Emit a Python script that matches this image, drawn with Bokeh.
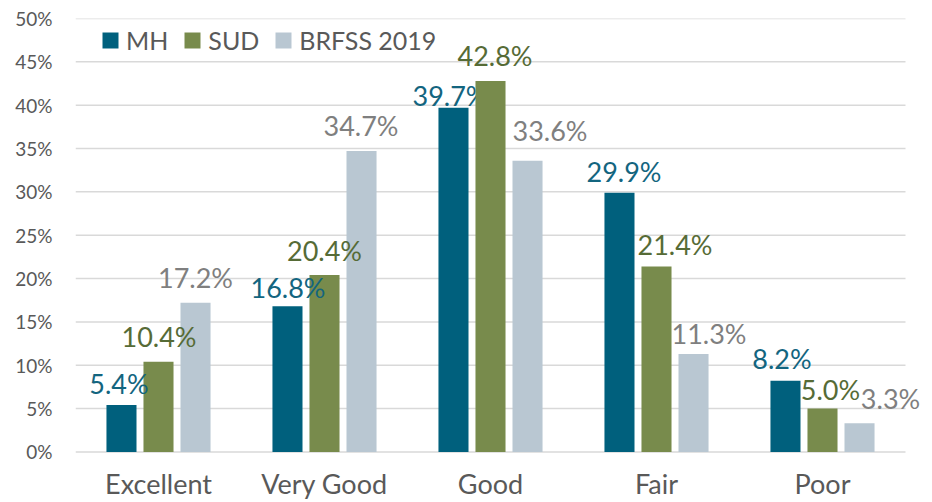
from bokeh.plotting import figure
from bokeh.models import (Range1d, Legend, LegendItem, ColumnDataSource,
                          PrintfTickFormatter, FixedTicker, CDSView, IndexFilter, LabelSet)
from bokeh.transform import dodge
from bokeh.core.properties import value
from bokeh.embed import file_html
from bokeh.resources import INLINE

# ---- data ----
categories = ["Excellent", "Very Good", "Good", "Fair", "Poor"]
series_names = ["MH", "SUD", "BRFSS 2019"]
mh = [5.4, 16.8, 39.7, 29.9, 8.2]
sud = [10.4, 20.4, 42.8, 21.4, 5.0]
brfss = [17.2, 34.7, 33.6, 11.3, 3.3]
y_ticks = [0, 5, 10, 15, 20, 25, 30, 35, 40, 45, 50]

# ---- styling ----
FONT = "Lato"
bar_colors = ["#00607D", "#788B4C", "#B9C7D2"]
label_colors = ["#13657F", "#566B36", "#7F7F7F"]
text_gray = "#595959"
grid_gray = "#D9D9D9"
offsets = [-0.223, 0.0, 0.223]
bar_width = 0.181
# per-label nudges in pixels: horizontal shift and gap above bar top
label_dx = [[-2.5, 0.5, -3.5, 4.5, -3.5],
            [0.5, 0.0, 4.5, 18.5, 8.0],
            [0.0, -0.5, 22.5, 15.5, 31.0]]
label_gap = [[11, 8.5, 12, 10.5, 12],
             [15, 14, 15, 11, 9],
             [15, 15, 20, 10, 14]]
# labels drawn underneath the following series' bars (series index -> category indices)
behind = {0: [2]}

n_cat = len(categories)
centers = [k + 0.5 for k in range(n_cat)]
# plot area: 830 px for the 5 categories, frame extended to the right edge so labels can overflow
x_end = n_cat * (932 - 75) / 830.0

p = figure(x_range=Range1d(0, x_end), y_range=Range1d(-0.3, 50),
           width=932, height=502, output_backend="svg", toolbar_location=None,
           min_border_left=75, min_border_right=0, min_border_top=18, min_border_bottom=40)
p.outline_line_color = None
p.background_fill_color = "white"
p.border_fill_color = "white"

# axes
p.yaxis.ticker = FixedTicker(ticks=y_ticks)
p.yaxis.formatter = PrintfTickFormatter(format="%d%%")
p.yaxis.axis_line_color = None
p.yaxis.major_tick_line_color = None
p.yaxis.minor_tick_line_color = None
p.yaxis.major_tick_out = 0
p.yaxis.major_label_standoff = 23
p.yaxis.major_label_text_font = FONT
p.yaxis.major_label_text_font_size = "19px"
p.yaxis.major_label_text_color = text_gray

p.xaxis.ticker = FixedTicker(ticks=centers)
p.xaxis.major_label_overrides = {c: name for c, name in zip(centers, categories)}
p.xaxis.axis_line_color = None
p.xaxis.major_tick_line_color = None
p.xaxis.minor_tick_line_color = None
p.xaxis.major_tick_out = 0
p.xaxis.major_label_standoff = 12
p.xaxis.major_label_text_font = FONT
p.xaxis.major_label_text_font_size = "27px"
p.xaxis.major_label_text_color = text_gray

p.xgrid.grid_line_color = None
p.ygrid.grid_line_color = None

# horizontal gridlines spanning the category area only
grid_src = ColumnDataSource(dict(y=y_ticks, x0=[0] * len(y_ticks), x1=[n_cat] * len(y_ticks)))
p.segment(x0="x0", x1="x1", y0="y", y1="y", source=grid_src,
          line_color=grid_gray, line_width=1.5)

series = [mh, sud, brfss]
sources = []
bar_renderers = []
for i, vals in enumerate(series):
    src = ColumnDataSource(dict(
        xc=centers, cat=categories, val=vals,
        lbl=["%.1f%%" % v for v in vals],
        dx=label_dx[i], dy=label_gap[i], dyd=[-g for g in label_gap[i]],
    ))
    sources.append(src)

for i in range(len(series)):
    r = p.vbar(x=dodge("xc", offsets[i]), top="val", bottom=0,
               width=bar_width, source=sources[i], fill_color=bar_colors[i], line_color=None)
    bar_renderers.append(r)
    if i in behind:
        # these labels sit underneath the next series' bars
        p.text(x=dodge("xc", offsets[i]), y="val", text="lbl",
               source=sources[i], view=CDSView(filter=IndexFilter(behind[i])),
               x_offset="dx", y_offset="dyd", text_align="center", text_baseline="alphabetic",
               text_font=value(FONT), text_font_size="27px", text_color=label_colors[i])

for i in range(len(series)):
    idx = [k for k in range(n_cat) if k not in behind.get(i, [])]
    sub = ColumnDataSource({k: [v[j] for j in idx] for k, v in sources[i].data.items()})
    p.add_layout(LabelSet(x=dodge("xc", offsets[i]), y="val", text="lbl",
                          source=sub, x_offset="dx", y_offset="dy",
                          text_align="center", text_baseline="alphabetic",
                          text_font=value(FONT), text_font_size="27px",
                          text_color=label_colors[i]))

items = [LegendItem(label=n, renderers=[r]) for n, r in zip(series_names, bar_renderers)]
legend = Legend(items=items, orientation="horizontal", location=(25, 399),
                glyph_width=20, glyph_height=20, label_standoff=6, spacing=14,
                padding=0, margin=0,
                label_text_font=FONT, label_text_font_size="25px", label_text_color=text_gray,
                background_fill_alpha=0, border_line_color=None)
p.add_layout(legend, "center")

open("out.html", "w").write(file_html(p, INLINE))
